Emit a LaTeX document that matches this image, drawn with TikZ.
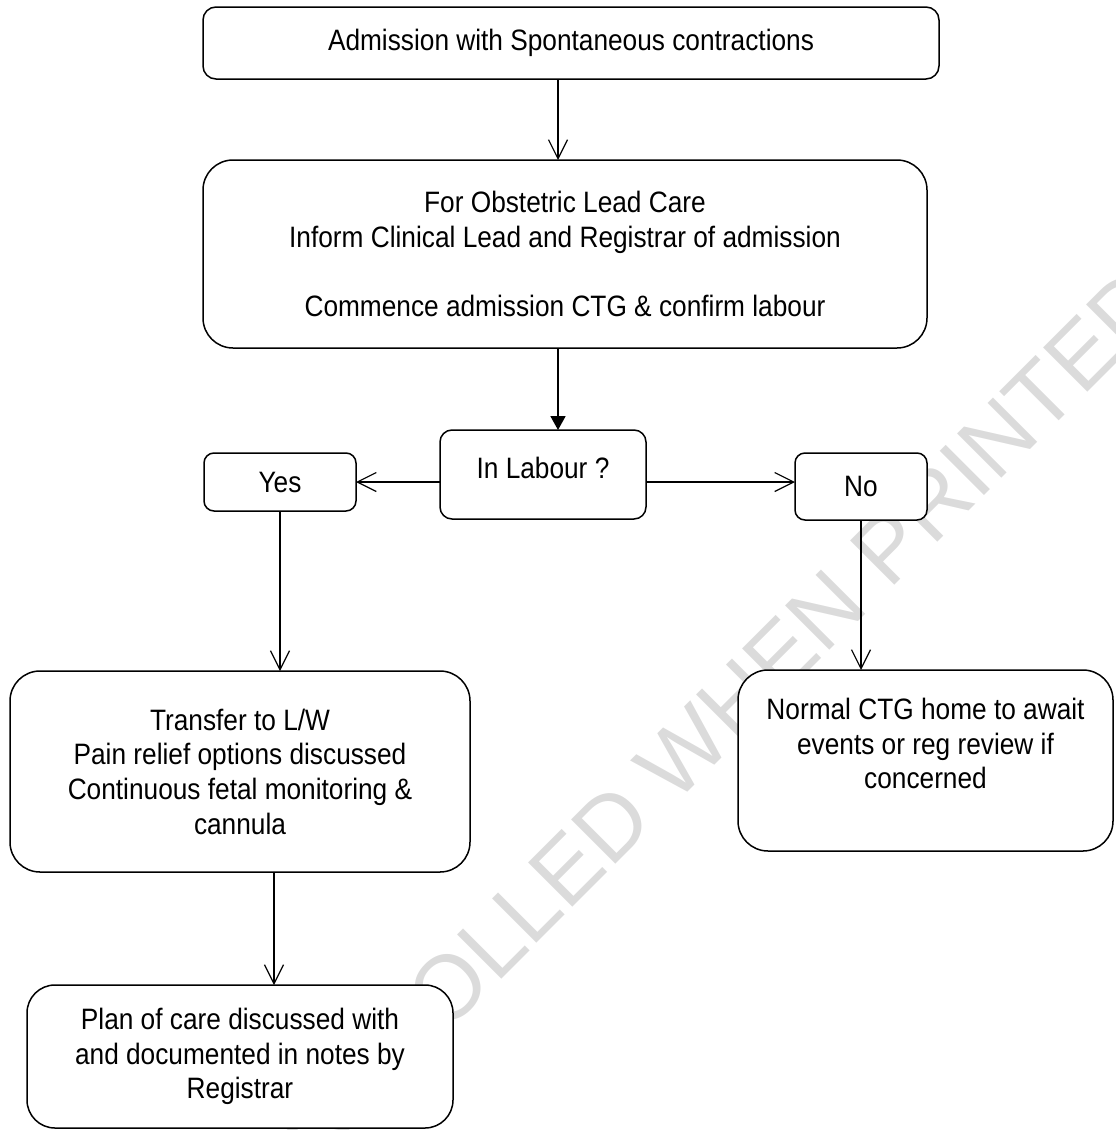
\documentclass[tikz,border=0pt]{standalone}
\usepackage{fontspec}
\setmainfont{Liberation Sans}[FakeStretch=0.89]
\newfontfamily\wmfont{Liberation Sans}
\usepackage{tikz}
\usetikzlibrary{arrows.meta}

\begin{document}
\begin{tikzpicture}[x=0.5pt, y=-0.5pt,
    box/.style={draw, fill=white, line width=0.75pt, align=center, inner sep=0pt, outer sep=0pt,
      font=\fontsize{14.75pt}{17.35pt}\selectfont},
    arr/.style={-{Straight Barb[length=9.5pt,width=9.5pt]}, line width=0.6pt},
    arrfill/.style={-{Triangle[length=7pt,width=7.5pt]}, line width=0.9pt}]

    \useasboundingbox (0, 0) rectangle (1115, 1130);

    \begin{scope}
      \clip (0, 0) rectangle (1115, 1130);
      \node[rotate=45, anchor=base west, inner sep=0pt, text=black!14,
        font=\wmfont\fontsize{45.5pt}{54pt}\selectfont] (wm) at (124, 1356) {UNCONTROLLED WHEN PRINTED};
    \end{scope}

    \node[box, minimum width=368pt, minimum height=36pt, rounded corners=6.5pt]   (adm)  at (571, 43)     {Admission with Spontaneous contractions};
    \node[box, minimum width=362pt, minimum height=94pt, rounded corners=15pt]    (obs)  at (565, 254)    {For Obstetric Lead Care\\Inform Clinical Lead and Registrar of admission\\\strut\\Commence admission CTG \& confirm labour};
    \node[box, minimum width=103pt, minimum height=44.5pt, rounded corners=6pt, text depth=7pt] (lab) at (543, 474.5) {In Labour ?};
    \node[box, minimum width=76pt, minimum height=29pt, rounded corners=5pt]      (yes)  at (280, 482)    {Yes};
    \node[box, minimum width=66pt, minimum height=33.5pt, rounded corners=5pt]    (no)   at (861, 486.5)  {No};
    \node[box, minimum width=230pt, minimum height=100.5pt, rounded corners=15pt] (lw)   at (240, 771.5)  {Transfer to L/W\\Pain relief options discussed\\Continuous fetal monitoring \&\\cannula};
    \node[box, minimum width=187.5pt, minimum height=90.5pt, rounded corners=15pt] (home) at (925.5, 760.5) {Normal CTG home to await\\events or reg review if\\concerned\\[-5.5pt]\strut};
    \node[box, minimum width=213pt, minimum height=71.5pt, rounded corners=14pt]  (plan) at (240, 1056.5) {Plan of care discussed with\\and documented in notes by\\Registrar};

    \draw ([xshift=-6.5pt]adm.south) edge[arr] ([xshift=-6.5pt]adm.south |- obs.north);
    \draw ([xshift=-3.5pt]obs.south) edge[arrfill] ([xshift=-3.5pt]obs.south |- lab.north);
    \draw (lab.west |- yes.east) edge[arr] (yes.east);
    \draw (lab.east |- yes.east) edge[arr] (no.west |- yes.east);
    \draw (yes.south) edge[arr] (yes.south |- lw.north);
    \draw (no.south) edge[arr] (no.south |- home.north);
    \draw ([xshift=17pt]lw.south) edge[arr] ([xshift=17pt]lw.south |- plan.north);
  \end{tikzpicture}
\end{document}
